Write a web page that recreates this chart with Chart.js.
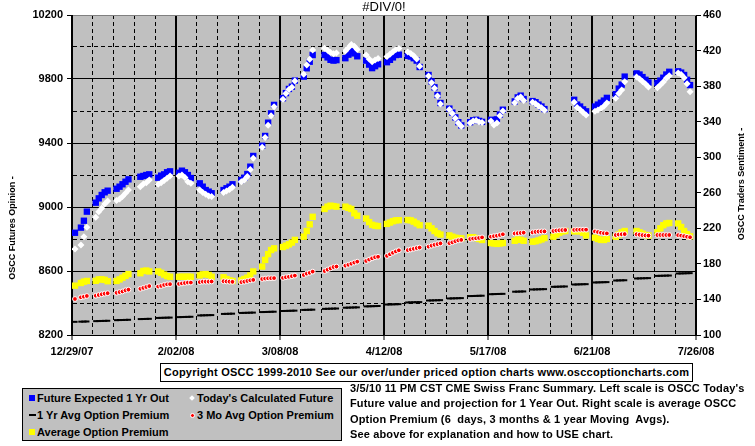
<!DOCTYPE html>
<html>
<head>
<meta charset="utf-8">
<script src="https://cdn.jsdelivr.net/npm/chart.js@4.4.0/dist/chart.umd.min.js"></script>
<style>
html,body{margin:0;padding:0;background:#fff;}
#wrap{position:relative;width:755px;height:446px;overflow:hidden;font-family:"Liberation Sans",Arial,sans-serif;font-weight:bold;font-size:11px;color:#000;}
#c{position:absolute;left:0;top:0;}
#copy{position:absolute;left:160px;top:363px;width:531px;height:17px;border:1px solid #000;background:#fff;text-align:center;line-height:17px;white-space:nowrap;letter-spacing:0.25px;}
#legend{position:absolute;left:22px;top:388px;width:318px;height:51px;border:1px solid #000;background:#c0c0c0;}
.li{position:absolute;white-space:nowrap;line-height:14px;}
.mk{position:absolute;}
#note{position:absolute;left:350px;top:381px;line-height:15.3px;white-space:pre;letter-spacing:0.15px;}
</style>
</head>
<body>
<div id="wrap">
<canvas id="c" width="755" height="446"></canvas>
<div id="copy"></div>
<div id="legend"></div>
<div id="note"></div>
</div>
<script>
/* ══ OSCC CHF chart ══ */
const chartTitle='#DIV/0!';
const leftTitle='OSCC Futures Opinion -';
const rightTitle='OSCC Traders Sentiment -';
const copyText='Copyright OSCC 1999-2010 See our over/under priced option charts www.osccoptioncharts.com';
const noteLines=["3/5/10 11 PM CST CME Swiss Franc Summary. Left scale is OSCC Today's","Future value and projection for 1 Year Out. Right scale is average OSCC","Option Premium (6  days, 3 months & 1 year Moving  Avgs).","See above for explanation and how to USE chart."];
const xTickLabels=['12/29/07','2/02/08','3/08/08','4/12/08','5/17/08','6/21/08','7/26/08'];

// day offsets from 12/29/07, one row per week
const days=[
1,2,3,4,5, 8,9,10,11,12, 15,16,17,18,19, 22,23,24,25,26, 29,30,31,32,33,
36,37,38,39,40, 43,44,45,46,47, 50,51,52,53,54, 57,58,59,60,61, 64,65,66,67,68,
71,72,73,74,75, 78,79,80,81,82, 85,86,87,88,89, 92,93,94,95,96, 99,100,101,102,103,
106,107,108,109,110, 113,114,115,116,117, 120,121,122,123,124, 127,128,129,130,131, 134,135,136,137,138,
141,142,143,144,145, 148,149,150,151,152, 155,156,157,158,159, 162,163,164,165,166, 169,170,171,172,173,
176,177,178,179,180, 183,184,185,186,187, 190,191,192,193,194, 197,198,199,200,201, 204,205,206,207,208];

const futureExpected=[
8839,null,8871,8914,8971, 9027,9054,9075,9092,9102, 9114,9127,9142,9158,9173, null,9189,9194,9200,9204, 9183,9196,9204,9217,9223,
9214,9227,9217,9200,9181, 9148,9127,9106,9096,9086, null,9106,9117,9127,9142, 9169,9183,9206,9252,9319, 9383,9444,9527,9585,9638,
9680,9712,9738,9752,9790, 9815,9867,9908,9950,null, 9950,9935,9920,9915,9918, 9930,9952,9975,9960,9942, 9915,9890,9868,9880,9892,
9905,9920,9935,9950,9952, 9945,9940,9930,9915,9875, 9825,9785,9748,9700,9650, 9615,9590,9560,9530,9510, 9530,9542,9545,9538,9532,
9545,9542,9548,9578,9608, null,9660,9685,9696,9675, 9662,9655,9640,9628,9612, null,null,null,null,null, 9670,9640,9628,9610,9598,
9628,9640,9652,9665,9682, 9705,9740,9765,9815,null, 9835,9828,9812,9795,9778, 9775,9790,9808,9828,9845, 9848,9840,9825,9795,9762];

const todayFuture=[
8738,null,8763,8814,8873, 8936,8971,8992,9019,9038, 9040,9050,9065,9086,9106, null,9127,9144,9152,9169, 9142,9152,9165,9179,9194,
9194,9200,9185,9158,9148, 9106,9090,9079,9069,9065, null,9090,9100,9110,9123, 9158,9169,9190,9235,9304, 9373,9435,9511,9571,9627,
9673,9710,9735,9748,9788, 9829,9888,9923,9981,null, 9992,9980,9965,9958,9962, 9975,9995,10015,10005,9985, 9950,9925,9908,9918,9928,
9940,9955,9970,9985,9990, 9968,9960,9945,9925,9880, 9819,9777,9742,9694,9644, 9610,9585,9555,9525,9505, 9525,9538,9540,9532,9528,
9538,9513,9525,9570,9600, null,9652,9678,9688,9665, 9655,9645,9632,9620,9605, null,null,null,null,null, 9655,9622,9608,9590,9575,
9598,9606,9615,9630,9650, 9680,9710,9732,9783,null, 9812,9800,9785,9768,9750, 9745,9762,9782,9805,9820, 9838,9828,9808,9770,9720];

const yr1Premium=[
114.8,null,115.0,115.1,115.2, 115.6,115.7,115.8,115.9,116.0, 116.7,116.8,116.9,117.0,117.1, null,117.9,118.0,118.1,118.2, 119.2,119.3,119.4,119.5,119.6,
120.1,120.2,120.3,120.4,120.5, 122.0,122.1,122.2,122.3,122.4, null,123.7,123.8,123.9,124.0, 124.8,124.9,125.0,125.1,125.2, 125.8,125.9,126.0,126.1,126.2,
127.0,127.1,127.2,127.3,127.4, 128.2,128.3,128.4,128.5,null, 129.4,129.5,129.6,129.7,129.8, 130.7,130.8,130.9,131.0,131.1, 132.2,132.3,132.4,132.5,132.6,
134.3,134.4,134.5,134.6,134.7, 136.6,136.7,136.8,136.9,137.0, 138.8,138.9,139.0,139.1,139.2, 141.1,141.2,141.3,141.4,141.5, 143.8,143.9,144.0,144.1,144.2,
145.9,146.0,146.1,146.2,146.3, null,148.7,148.8,148.9,149.0, 151.2,151.3,151.4,151.5,151.6, 154.2,154.3,154.4,154.5,154.6, 156.8,156.9,157.0,157.1,157.2,
159.1,159.2,159.3,159.4,159.5, 161.3,161.4,161.5,161.6,null, 163.6,163.7,163.8,163.9,164.0, 166.5,166.6,166.7,166.8,166.9, 169.2,169.3,169.4,169.5,169.6];

const mo3Premium=[
140.5,null,142.4,143.1,143.9, 144.2,145.0,145.8,146.5,147.0, 147.5,148.3,149.0,150.3,151.0, null,152.0,153.0,154.0,155.0, 154.5,155.2,156.3,157.0,157.2,
157.5,158.0,158.5,159.0,159.0, 159.5,160.0,160.0,160.0,160.2, null,160.5,160.3,160.0,159.8, 159.5,160.0,160.8,161.5,162.0, 163.0,163.5,163.8,163.9,164.0,
164.3,165.0,165.5,166.2,166.8, 167.5,169.0,170.0,171.3,null, 172.0,173.5,175.0,176.5,177.0, 178.0,179.0,180.2,181.5,182.5, 183.3,184.8,186.3,187.5,188.0,
189.0,190.8,192.5,194.0,195.3, 195.5,196.2,197.0,197.8,198.4, 199.4,200.5,201.5,202.3,203.1, 203.3,204.3,205.5,206.5,207.0, 208.0,208.5,208.8,209.2,209.8,
210.6,211.2,211.7,212.5,213.3, null,214.2,214.5,214.8,215.1, 215.5,216.0,216.3,216.5,216.5, 217.0,217.5,217.8,218.0,218.1, 218.2,218.4,218.5,218.5,218.5,
216.5,215.8,215.0,214.5,214.3, 212.5,213.0,213.3,213.5,null, 213.3,212.8,212.3,212.0,211.8, 212.5,212.5,212.5,212.5,212.5, 212.3,211.8,211.2,210.5,210.0];

const avgPremium=[
155.5,null,158.5,160.0,160.8, 161.0,162.5,162.7,162.0,160.5, 160.8,162.5,164.5,166.5,168.5, null,169.5,172.0,172.5,171.5, 171.5,170.0,168.0,166.3,165.5,
165.5,165.5,165.5,165.6,165.5, 167.0,168.3,168.5,167.5,165.6, null,165.0,163.0,161.5,160.8, 161.5,163.0,164.5,167.0,171.5, 177.0,184.5,191.0,195.6,197.5,
199.0,200.5,202.0,204.0,207.0, 210.6,217.0,224.5,233.0,null, 241.8,244.4,245.5,245.0,244.4, 244.4,243.0,241.8,236.9,234.2, 231.0,227.0,224.0,223.0,222.5,
225.0,226.5,228.0,229.0,229.2, 229.4,229.0,227.5,225.5,223.5, 223.0,220.0,217.0,214.4,213.0, 212.0,210.6,209.5,209.0,208.8, 210.0,210.0,209.0,208.0,206.9,
203.5,203.0,202.5,203.0,203.5, null,206.0,207.5,207.0,206.0, 205.0,205.5,206.5,207.5,209.0, 210.6,213.0,215.0,216.5,217.0, 216.5,217.0,216.5,215.0,212.0,
209.5,208.0,207.0,206.9,208.0, 210.5,213.0,215.5,217.0,null, 217.0,215.5,214.0,212.5,212.0, 215.5,220.0,223.5,225.5,226.0, 225.5,221.5,217.0,213.5,211.0];

const FONT='"Liberation Sans", Arial, sans-serif';
function pts(arr){return days.map((d,i)=>({x:d,y:arr[i]})).filter(p=>p.y!==null);}
const isMajorX=v=>v%35===0;
const isMajorY=v=>(v-8200)%400===0;

const frame={id:'frame',
  beforeDraw(c){const a=c.chartArea,x=c.ctx;x.save();x.fillStyle='#c0c0c0';x.fillRect(a.left,a.top,a.right-a.left,a.bottom-a.top);x.restore();},
  afterDraw(c){
    const x=c.ctx,a=c.chartArea;
    x.save();x.fillStyle='#000';x.textAlign='center';x.textBaseline='middle';
    x.font='13px '+FONT;x.fillText(chartTitle,(a.left+a.right)/2,7);
    x.font='bold 9px '+FONT;
    x.save();x.translate(13,228);x.rotate(-Math.PI/2);x.fillText(leftTitle,0,0);x.restore();
    x.save();x.translate(742,184);x.rotate(-Math.PI/2);x.fillText(rightTitle,0,0);x.restore();
    x.restore();
  }};

new Chart(document.getElementById('c'),{
  type:'scatter',
  data:{datasets:[
    {label:'Future Expected 1 Yr Out',data:pts(futureExpected),yAxisID:'y',pointStyle:'rect',pointRadius:4.5,backgroundColor:'#0000ff',borderWidth:0,order:2},
    {label:"Today's Calculated Future",data:pts(todayFuture),yAxisID:'y',pointStyle:'rectRot',pointRadius:3.5,backgroundColor:'#ffffff',borderWidth:0,order:1},
    {label:'1 Yr Avg Option Premium',data:pts(yr1Premium),yAxisID:'y2',pointStyle:'line',pointRadius:2.6,borderColor:'#000000',borderWidth:2,order:4},
    {label:'3 Mo Avg Option Premium',data:pts(mo3Premium),yAxisID:'y2',pointStyle:'circle',pointRadius:2.4,backgroundColor:'#ff0000',borderColor:'#ffffff',borderWidth:1,order:3},
    {label:'Average Option Premium',data:pts(avgPremium),yAxisID:'y2',pointStyle:'rect',pointRadius:4.5,backgroundColor:'#ffff00',borderWidth:0,order:5}
  ]},
  options:{
    responsive:false,animation:false,events:[],devicePixelRatio:1,
    layout:{padding:{top:15,left:0,right:0,bottom:0}},
    plugins:{legend:{display:false},tooltip:{enabled:false}},
    scales:{
      x:{type:'linear',min:0,max:210,afterFit(s){s.height=111;},
        ticks:{stepSize:7,autoSkip:false,maxRotation:0,padding:5,color:'#000',font:{family:FONT,size:11,weight:'bold'},
          callback:v=>isMajorX(v)?xTickLabels[v/35]:''},
        grid:{color:'#000',lineWidth:c=>c.tick&&isMajorX(c.tick.value)?2:1,tickLength:5,tickWidth:1,
          tickColor:c=>c.tick&&isMajorX(c.tick.value)?'#000':'rgba(0,0,0,0)',
          borderDash:c=>c.tick&&!isMajorX(c.tick.value)?[4,3]:[]},
        border:{display:true,color:'#000',width:1,dash:c=>c.tick&&!isMajorX(c.tick.value)?[4,3]:[]}},
      y:{position:'left',min:8200,max:10200,afterFit(s){s.width=72;},
        ticks:{stepSize:200,autoSkip:false,padding:4,color:'#000',font:{family:FONT,size:11,weight:'bold'},
          callback:v=>isMajorY(v)?String(v):''},
        grid:{lineWidth:1,tickLength:5,tickWidth:1,
          color:c=>c.tick&&c.tick.value===10200?'#808080':'#000',
          tickColor:c=>c.tick&&isMajorY(c.tick.value)?'#000':'rgba(0,0,0,0)',
          borderDash:c=>c.tick&&!isMajorY(c.tick.value)?[4,3]:[]},
        border:{display:true,color:'#000',width:1,dash:c=>c.tick&&!isMajorY(c.tick.value)?[4,3]:[]}},
      y2:{position:'right',min:100,max:460,afterFit(s){s.width=59;},
        ticks:{stepSize:40,autoSkip:false,padding:2,color:'#000',font:{family:FONT,size:11,weight:'bold'}},
        grid:{drawOnChartArea:false,tickLength:5,tickWidth:1,tickColor:'#000'},
        border:{display:true,color:'#000',width:1}}
    }
  },
  plugins:[frame]
});

// legend, copyright and note as page text
document.getElementById('copy').textContent=copyText;
document.getElementById('note').textContent=noteLines.join('\n');
const legendItems=[
  {t:'Future Expected 1 Yr Out',col:0,row:0,mk:'width:6px;height:6px;background:#0000ff;'},
  {t:"Today's Calculated Future",col:1,row:0,mk:'width:4px;height:4px;background:#fff;transform:rotate(45deg);'},
  {t:'1 Yr Avg Option Premium',col:0,row:1,mk:'width:7px;height:2px;background:#000;'},
  {t:'3 Mo Avg Option Premium',col:1,row:1,mk:'width:3px;height:3px;background:#f00;border:1px solid #fff;border-radius:50%;'},
  {t:'Average Option Premium',col:0,row:2,mk:'width:6px;height:6px;background:#ffff00;'}
];
const lg=document.getElementById('legend');
legendItems.forEach(it=>{
  const cy=9+it.row*17, mx=it.col?168:8;
  const m=document.createElement('div');m.className='mk';m.style.cssText=it.mk;
  lg.appendChild(m);
  const w=m.offsetWidth,h=m.offsetHeight;m.style.left=(mx-w/2+1)+'px';m.style.top=(cy-h/2)+'px';
  const s=document.createElement('div');s.className='li';s.textContent=it.t;
  s.style.left=(it.col?174:14)+'px';s.style.top=(cy-7)+'px';lg.appendChild(s);
});
</script>
</body>
</html>
